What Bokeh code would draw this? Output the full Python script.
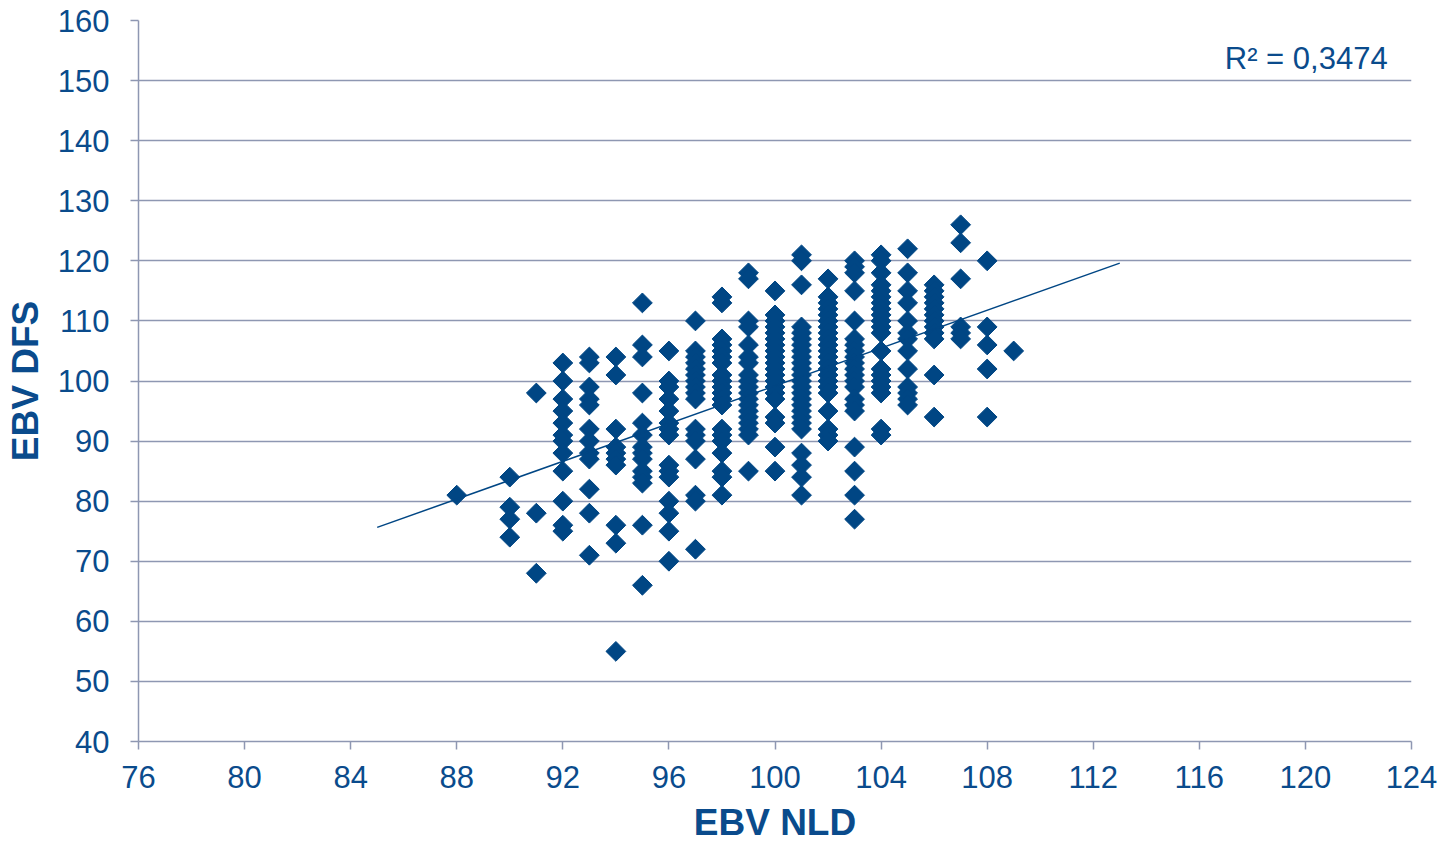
from bokeh.plotting import figure
from bokeh.models import FixedTicker, Label, ColumnDataSource
from bokeh.embed import file_html
from bokeh.resources import INLINE
import math

# EBV NLD value -> list of EBV DFS values
nld_values = [88, 90, 91, 92, 93, 94, 95, 96, 97, 98, 99, 100, 101, 102, 103, 104, 105, 106, 107, 108, 109]
dfs_by_nld = [
    [81],
    [84, 79, 77, 74],
    [98, 78, 68],
    [103, 100, 97, 95, 93, 91, 90, 88, 85, 80, 76, 75],
    [104, 103, 99, 97, 96, 92, 90, 88, 87, 82, 78, 71],
    [104, 101, 92, 89, 88, 87, 86, 76, 73, 55],
    [113, 106, 104, 98, 93, 91, 89, 88, 87, 85, 84, 83, 76, 66],
    [105, 100, 99, 97, 95, 93, 92, 91, 86, 85, 84, 80, 78, 75, 70],
    [110, 105, 104, 103, 102, 101, 100, 99, 98, 97, 92, 91, 90, 87, 81, 80, 72],
    [114, 113, 107, 106, 105, 104, 103, 101, 100, 99, 98, 97, 96, 92, 91, 90, 88, 85, 84, 81],
    [118, 117, 110, 109, 106, 104, 103, 101, 100, 99, 98, 97, 96, 95, 94, 93, 92, 91, 85],
    [115, 111, 110, 109, 108, 107, 106, 105, 104, 103, 102, 101, 100, 99, 98, 97, 94, 93, 89, 85],
    [121, 120, 116, 109, 108, 107, 106, 105, 104, 103, 102, 101, 100, 99, 98, 97, 96, 95, 94, 93, 92, 88, 86, 84, 81],
    [117, 114, 113, 112, 111, 110, 109, 108, 107, 106, 105, 104, 103, 102, 101, 100, 99, 98, 95, 92, 91, 90],
    [120, 119, 118, 115, 110, 107, 106, 105, 104, 103, 102, 101, 100, 99, 97, 96, 95, 89, 85, 81, 77],
    [121, 120, 118, 116, 115, 114, 113, 112, 111, 110, 109, 108, 105, 102, 101, 100, 99, 98, 92, 91],
    [122, 118, 115, 113, 110, 108, 107, 105, 102, 99, 98, 97, 96],
    [116, 115, 114, 113, 112, 111, 110, 109, 108, 107, 101, 94],
    [126, 123, 117, 109, 108, 107],
    [120, 109, 106, 102, 94],
    [105],
]

# trend line
trend_x = [85, 113]
trend_slope = 1.571
trend_intercept = -57.9
r2_text = "R\u00b2 = 0,3474"

x_ticks = list(range(76, 125, 4))
y_ticks = list(range(40, 161, 10))

xs, ys = [], []
for nx, lst in zip(nld_values, dfs_by_nld):
    for v in lst:
        xs.append(nx)
        ys.append(v)

BLUE = "#004684"
TXT = "#0A4B8C"
GRID = "#8E97B2"
FONT = "Liberation Sans"

p = figure(width=1447, height=845, output_backend="svg", toolbar_location=None,
           x_range=(76, 124), y_range=(40, 160),
           min_border_left=138, min_border_right=36, min_border_top=20, min_border_bottom=103)
p.outline_line_color = None
p.background_fill_color = "white"
p.border_fill_color = "white"

p.xgrid.grid_line_color = None
p.ygrid.grid_line_color = GRID
p.ygrid.grid_line_width = 1.5
p.ygrid.ticker = FixedTicker(ticks=y_ticks)

p.xaxis.ticker = FixedTicker(ticks=x_ticks)
p.yaxis.ticker = FixedTicker(ticks=y_ticks)
for ax in (p.xaxis[0], p.yaxis[0]):
    ax.axis_line_color = GRID
    ax.axis_line_width = 1.5
    ax.major_tick_line_color = GRID
    ax.major_tick_line_width = 1.5
    ax.major_tick_out = 8
    ax.major_tick_in = 0
    ax.minor_tick_line_color = None
    ax.major_label_text_font = FONT
    ax.major_label_text_font_size = "31px"
    ax.major_label_text_color = TXT
    ax.axis_label_text_font = FONT
    ax.axis_label_text_font_size = "37px"
    ax.axis_label_text_font_style = "bold"
    ax.axis_label_text_color = TXT

p.xaxis.axis_label = "EBV NLD"
p.yaxis.axis_label = "EBV DFS"
p.yaxis.major_label_standoff = 21
p.yaxis.axis_label_standoff = 9
p.xaxis.major_label_standoff = 16
p.xaxis.axis_label_standoff = 11

src = ColumnDataSource(dict(x=xs, y=ys))
p.scatter("x", "y", source=src, marker="square", angle=math.pi / 4, size=14,
          fill_color=BLUE, line_color=BLUE)

trend_y = [trend_slope * v + trend_intercept for v in trend_x]
p.line(trend_x, trend_y, line_color=BLUE, line_width=1.5)

p.add_layout(Label(x=123.1, y=153.7, text=r2_text, text_align="right", text_baseline="middle",
                   text_font=FONT, text_font_size="31px", text_color=TXT))

open("out.html", "w").write(file_html(p, INLINE))
